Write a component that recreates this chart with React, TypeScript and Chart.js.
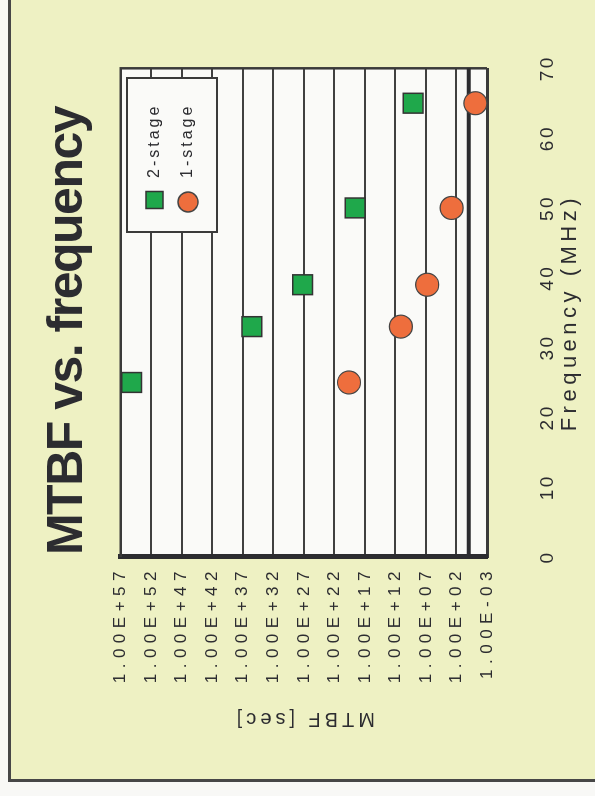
import React, { useEffect, useRef } from "react";
import { Chart, registerables } from "chart.js";

Chart.register(...registerables);

// ---- data ----
const titleText = "MTBF vs. frequency";
const xTitle = "Frequency (MHz)";
const yTitle = "MTBF [sec]";

const seriesNames = ["2-stage", "1-stage"];
const frequency2Stage = [25, 33, 39, 50, 65];
const mtbf2Stage = [1.6e55, 3.2e35, 1.6e27, 4e18, 1.3e9];
const frequency1Stage = [25, 33, 39, 50, 65];
const mtbf1Stage = [4e19, 1.3e11, 6.3e6, 6.3e2, 8e-2];

const xTickValues = [0, 10, 20, 30, 40, 50, 60, 70];
const yTickValues = [1e57, 1e52, 1e47, 1e42, 1e37, 1e32, 1e27, 1e22, 1e17, 1e12, 1e7, 1e2, 1e-3];
const yTickLabels = [
  "1.00E+57", "1.00E+52", "1.00E+47", "1.00E+42", "1.00E+37", "1.00E+32", "1.00E+27",
  "1.00E+22", "1.00E+17", "1.00E+12", "1.00E+07", "1.00E+02", "1.00E-03",
];
const axisCrossValue = 1;

// ---- style ----
const CW = 796; // canvas width (becomes page height after rotation)
const CH = 595; // canvas height (becomes page width after rotation)
const INK = "#2c2c30";
const FONT = '"Liberation Sans", Arial, sans-serif';

function patchScale(scale: any, labelSpacing: string, titleSpacing: string) {
  if (!scale || scale.__patched) return;
  scale.__patched = true;
  const dl = scale.drawLabels.bind(scale);
  const dt = scale.drawTitle.bind(scale);
  scale.drawLabels = (area: any) => {
    const ctx = scale.ctx;
    ctx.save();
    (ctx as any).letterSpacing = labelSpacing;
    dl(area);
    ctx.restore();
  };
  scale.drawTitle = (area: any) => {
    const ctx = scale.ctx;
    ctx.save();
    (ctx as any).letterSpacing = titleSpacing;
    dt(area);
    ctx.restore();
  };
}

const decorPlugin = {
  id: "decor",
  afterLayout(chart: any) {
    patchScale(chart.scales.x, "2.5px", "4.5px");
    patchScale(chart.scales.y, "5.5px", "4px");
  },
  beforeDraw(chart: any) {
    const { ctx, width, height, chartArea: a } = chart;
    ctx.save();
    ctx.fillStyle = "#F8F8F6";
    ctx.fillRect(0, 0, width, height);
    ctx.fillStyle = "#EEF1C3";
    ctx.fillRect(15.5, 9.5, width, height);
    ctx.strokeStyle = "#474747";
    ctx.lineWidth = 3;
    ctx.beginPath();
    ctx.moveTo(15.5, height + 5);
    ctx.lineTo(15.5, 9.5);
    ctx.lineTo(width + 5, 9.5);
    ctx.stroke();
    ctx.fillStyle = "#FAFAF8";
    ctx.fillRect(a.left, a.top, a.right - a.left, a.bottom - a.top);
    // title
    ctx.fillStyle = INK;
    ctx.font = `bold 50px ${FONT}`;
    (ctx as any).letterSpacing = "-1.5px";
    ctx.textAlign = "center";
    ctx.textBaseline = "alphabetic";
    ctx.fillText(titleText, 465, 82);
    ctx.restore();
  },
  beforeDatasetsDraw(chart: any) {
    const { ctx, chartArea: a, scales } = chart;
    ctx.save();
    ctx.strokeStyle = "#3a3a3a";
    ctx.lineWidth = 2.5;
    ctx.beginPath();
    ctx.moveTo(a.left, a.top);
    ctx.lineTo(a.right, a.top);
    ctx.lineTo(a.right, a.bottom);
    ctx.stroke();
    const yc = scales.y.getPixelForValue(axisCrossValue);
    ctx.strokeStyle = INK;
    ctx.lineWidth = 4;
    ctx.beginPath();
    ctx.moveTo(a.left, yc);
    ctx.lineTo(a.right, yc);
    ctx.stroke();
    ctx.restore();
  },
  afterDraw(chart: any) {
    const { ctx } = chart;
    ctx.save();
    const bx = 564, by = 127, bw = 154, bh = 90;
    ctx.fillStyle = "#FAFAF8";
    ctx.fillRect(bx, by, bw, bh);
    ctx.strokeStyle = "#3a3a3a";
    ctx.lineWidth = 2;
    ctx.strokeRect(bx, by, bw, bh);
    const rows = [154.5, 188];
    chart.data.datasets.forEach((ds: any, i: number) => {
      const cy = rows[i];
      ctx.fillStyle = ds.backgroundColor;
      ctx.strokeStyle = ds.borderColor;
      ctx.lineWidth = 1.5;
      if (ds.pointStyle === "rect") {
        ctx.fillRect(596 - 8.5, cy - 8.5, 17, 17);
        ctx.strokeRect(596 - 8.5, cy - 8.5, 17, 17);
      } else {
        ctx.beginPath();
        ctx.arc(594, cy, 10, 0, Math.PI * 2);
        ctx.fill();
        ctx.stroke();
      }
      ctx.fillStyle = INK;
      ctx.font = `16px ${FONT}`;
      (ctx as any).letterSpacing = "3px";
      ctx.textAlign = "left";
      ctx.textBaseline = "middle";
      ctx.fillText(ds.label, 618, cy);
    });
    ctx.restore();
  },
};

export default function App() {
  const ref = useRef<HTMLCanvasElement | null>(null);

  useEffect(() => {
    const canvas = ref.current;
    if (!canvas) return;
    const chart = new Chart(canvas, {
      type: "scatter",
      data: {
        datasets: [
          {
            label: seriesNames[0],
            data: frequency2Stage.map((f, i) => ({ x: f, y: mtbf2Stage[i] })),
            pointStyle: "rect",
            pointRadius: 14,
            backgroundColor: "#1FA84B",
            borderColor: "#333333",
            borderWidth: 1.5,
            clip: false,
          } as any,
          {
            label: seriesNames[1],
            data: frequency1Stage.map((f, i) => ({ x: f, y: mtbf1Stage[i] })),
            pointStyle: "circle",
            pointRadius: 11.5,
            backgroundColor: "#EE6E3D",
            borderColor: "#444444",
            borderWidth: 1.2,
            clip: false,
          } as any,
        ],
      },
      options: {
        responsive: false,
        animation: false,
        devicePixelRatio: 1,
        layout: { padding: { left: 0, top: 120.7, right: CW - 727.7, bottom: 0 } },
        plugins: {
          legend: { display: false },
          title: { display: false },
          tooltip: { enabled: false },
        },
        scales: {
          x: {
            type: "linear",
            min: 0,
            max: 70,
            afterBuildTicks: (scale: any) => {
              scale.ticks = xTickValues.map((v) => ({ value: v }));
            },
            afterFit: (scale: any) => {
              scale.height = CH - 487;
            },
            grid: { display: false, drawTicks: false },
            border: { display: true, color: "#3a3a3a", width: 3 },
            ticks: {
              padding: 49,
              maxRotation: 0,
              autoSkip: false,
              color: INK,
              font: { family: FONT, size: 19 },
            },
            title: {
              display: true,
              text: xTitle,
              color: INK,
              font: { family: FONT, size: 22 },
              padding: { top: 0, bottom: 12 },
            },
          },
          y: {
            type: "logarithmic",
            min: 1e-3,
            max: 1e57,
            afterBuildTicks: (scale: any) => {
              scale.ticks = [...yTickValues].reverse().map((v) => ({ value: v }));
            },
            afterFit: (scale: any) => {
              scale.width = 239;
            },
            grid: { display: true, drawTicks: false, color: "#404040", lineWidth: 2 },
            border: { display: true, color: INK, width: 5 },
            ticks: {
              padding: 9,
              autoSkip: false,
              color: INK,
              font: { family: FONT, size: 17 },
              callback: (value: any) => {
                const idx = yTickValues.indexOf(Number(value));
                return idx >= 0 ? yTickLabels[idx] : "";
              },
            },
            title: {
              display: true,
              text: yTitle,
              color: INK,
              font: { family: FONT, size: 20 },
              padding: { top: 65, bottom: 0 },
            },
          },
        },
      } as any,
      plugins: [decorPlugin as any],
    });
    return () => chart.destroy();
  }, []);

  return (
    <div
      style={{
        position: "fixed",
        left: 0,
        top: 0,
        width: CH,
        height: CW,
        overflow: "hidden",
        background: "#F8F8F6",
      }}
    >
      <canvas
        ref={ref}
        width={CW}
        height={CH}
        style={{
          position: "absolute",
          left: 0,
          top: 0,
          width: CW,
          height: CH,
          transformOrigin: "0 0",
          transform: `translateY(${CW}px) rotate(-90deg)`,
        }}
      />
    </div>
  );
}
